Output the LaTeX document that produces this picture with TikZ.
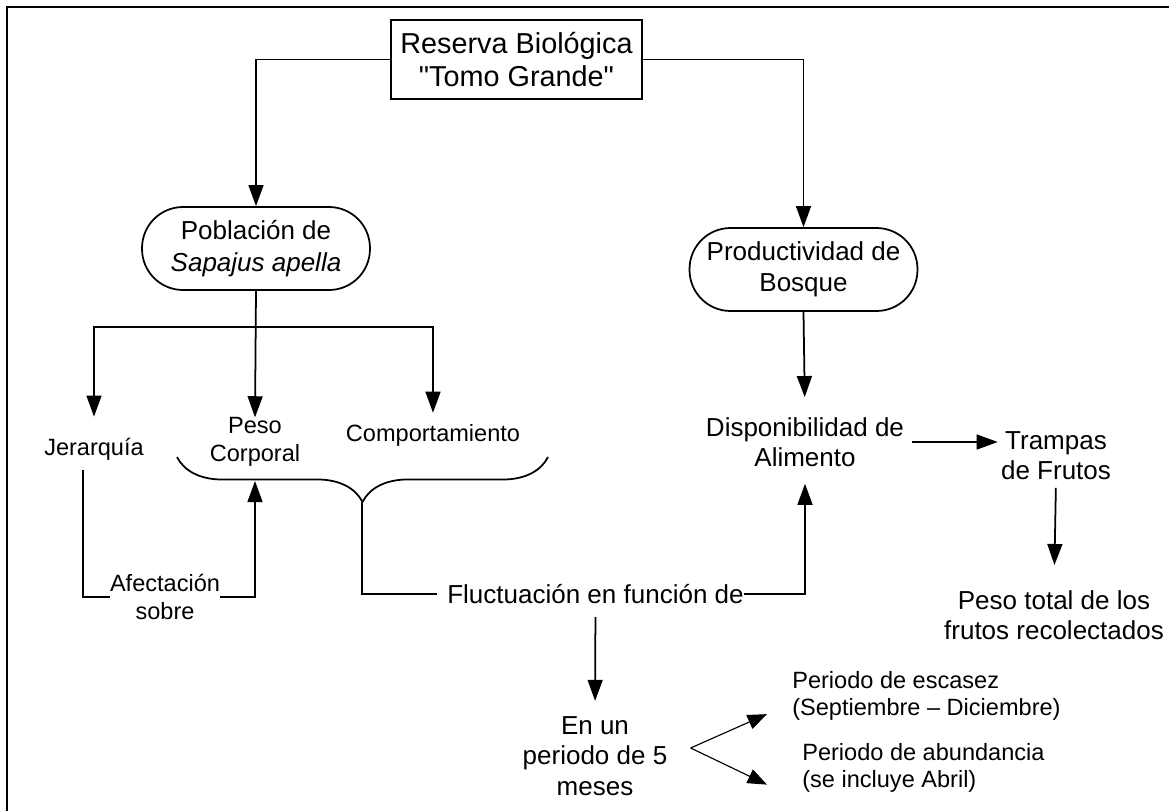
\documentclass[tikz,border=0pt]{standalone}
\usepackage{fontspec}
\setmainfont{Liberation Sans}[Ligatures=TeXOff]
\usetikzlibrary{arrows.meta,decorations.pathreplacing,calc}
\tikzset{
    block/.style = {draw, rectangle, line width=1.2pt,
        minimum width=5.02cm,
        minimum height=1.58cm, align=center,
        font=\fontsize{16.4}{18.7}\selectfont},
    terminal/.style = {draw, rectangle, rounded corners=0.82cm, line width=1pt,
        minimum width=4.56cm,
        minimum height=1.66cm, inner sep=0pt, align=center,
        font=\fontsize{14.8}{17.9}\selectfont},
    bigtext/.style = {inner sep=0pt, align=center, font=\fontsize{14.8}{17.2}\selectfont},
    smalltext/.style = {inner sep=0pt, align=center, font=\fontsize{13.4}{15.7}\selectfont},
    conn/.style = {draw, line width=1pt},
    arrow/.style = {conn, -{Triangle[length=12pt,width=8.5pt]}},
    thinarrow/.style = {draw, line width=0.65pt, -{Triangle[length=11pt,width=8.5pt]}},
    curly/.style = {draw, line width=1pt, decorate, decoration={brace, mirror, amplitude=0.9cm}},
    frame/.style = {draw, line width=1.3pt}
}

\begin{document}
\begin{tikzpicture}[x=0.02cm, y=-0.02cm]
    \useasboundingbox (0,0) rectangle (1169,811);
    \draw[frame] (7,811) -- (7,7) -- (1169,7);

    % top and the two branches
    \node[block] (reserva) at (516.5,59.5) {Reserva Biológica\\"Tomo Grande"};
    \node[terminal] (poblacion) at (256,248.5) {Población de\\\textit{Sapajus apella}};
    \node[terminal] (productividad) at (803.5,269.5) {Productividad de\\Bosque};
    \draw[arrow] (reserva.west) -| (poblacion.north);
    \draw[arrow] (reserva.east) -| (productividad.north);

    % left side
    \node[smalltext] (jerarquia) at (94,449) {Jerarquía};
    \node[smalltext] (peso) at (255,442) {Peso\\Corporal};
    \node[smalltext] (comport) at (433,435) {Comportamiento};
    \draw[arrow] (poblacion.south) -- (peso.north);
    \draw[arrow, shorten >=11.9pt] (poblacion.south) ++(0,36) -| (jerarquia.north);
    \draw[arrow, shorten >=6.2pt] (poblacion.south) ++(0,36) -| (comport.north);

    \coordinate (bl) at (177,457);
    \coordinate (br) at (548,457);
    \coordinate (btip) at (362,502);
    \coordinate (arm) at (255,481);
    \draw[curly] (bl) -- (br);

    \node[smalltext] (afect) at (165,597) {Afectación\\sobre};
    \draw[conn, shorten <=5.4pt] ([xshift=-0.22cm]jerarquia.south) |- (afect.west);
    \draw[arrow] (afect.east) -| (arm);

    \node[bigtext] (fluct) at (595.5,594) {Fluctuación en función de};
    \draw[conn, shorten >=5.7pt] (btip) |- (fluct.west);

    % right side
    \node[bigtext] (dispon) at (805,442) {Disponibilidad de\\Alimento};
    \node[bigtext] (trampas) at (1056,455.5) {Trampas\\de Frutos};
    \node[bigtext] (pesototal) at (1054,615) {Peso total de los\\frutos recolectados};
    \draw[arrow, shorten >=11.3pt] (productividad.south) -- (dispon.north);
    \draw[arrow, shorten >=9.5pt] (fluct.east) -| (dispon.south);
    \draw[arrow, shorten <=4.5pt, shorten >=1.7pt] (dispon.east) -- (dispon.east -| trampas.west);
    \draw[arrow, shorten <=4.4pt, shorten >=14.2pt] (trampas.south) -- (pesototal.north);

    % bottom
    \node[bigtext] (meses) at (595,756) {En un\\periodo de 5\\meses};
    \node[smalltext, align=left, anchor=west] (escasez) at (792,696) {Periodo de escasez\\(Septiembre – Diciembre)};
    \node[smalltext, align=left, anchor=west] (abund) at (802,768) {Periodo de abundancia\\(se incluye Abril)};
    \draw[arrow, shorten <=7.4pt, shorten >=8.8pt] (fluct.south) -- (meses.north);
    \draw[thinarrow] ([xshift=0.46cm,yshift=0.16cm]meses.east) -- ([xshift=-0.5cm,yshift=0.14cm]escasez.south west);
    \draw[thinarrow] ([xshift=0.46cm,yshift=0.16cm]meses.east) -- ([xshift=-0.7cm,yshift=0.17cm]abund.south west);
\end{tikzpicture}
\end{document}
